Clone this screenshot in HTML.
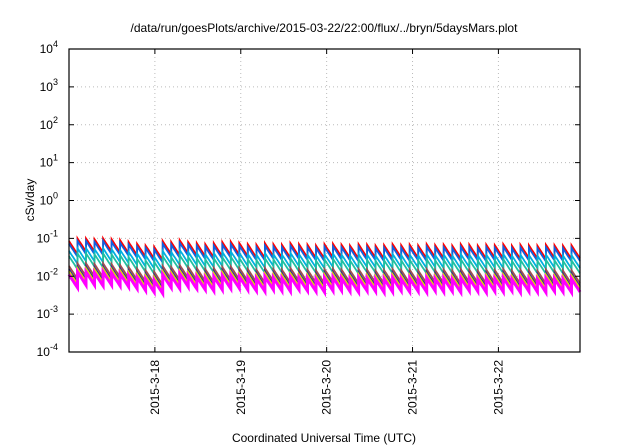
<!DOCTYPE html>
<html><head><meta charset="utf-8"><style>
body{margin:0;background:#fff;}
svg{display:block;font-family:"Liberation Sans",sans-serif;}
</style></head><body>
<svg id="chart" width="640" height="448" viewBox="0 0 640 448">
<text x="324" y="32" font-size="12" text-anchor="middle">/data/run/goesPlots/archive/2015-03-22/22:00/flux/../bryn/5daysMars.plot</text>
<text transform="translate(34,200) rotate(-90)" font-size="12" text-anchor="middle">cSv/day</text>
<text x="324" y="442" font-size="12" text-anchor="middle">Coordinated Universal Time (UTC)</text>
<g id="grid"></g><g id="series"></g><g id="axes"></g>
</svg>
<script>
const yExponents=[-4,-3,-2,-1,0,1,2,3,4];
const xTickDays=[1,2,3,4,5];
const xTickLabels=["2015-3-18","2015-3-19","2015-3-20","2015-3-21","2015-3-22"];
const seriesNames=["red","blue","cyan","teal","brown","navy","yellow","magenta"];
const seriesColors=["#ff0000","#1060e0","#00b0e0","#20c0a0","#a05050","#303090","#e0e000","#ff00ff"];
const seriesFactors=[1.0,0.85,0.55,0.4,0.22,0.18,0.16,0.13];
const toothPeaks=[0.085,0.1,0.1,0.095,0.1,0.095,0.09,0.08,0.072,0.065,0.06,0.085,0.08,0.09,0.08,0.075,0.07,0.075,0.08,0.082,
0.075,0.07,0.068,0.075,0.07,0.068,0.075,0.07,0.068,0.065,0.07,0.072,0.068,0.065,0.07,0.068,0.064,0.066,0.07,0.066,
0.068,0.065,0.07,0.066,0.068,0.064,0.07,0.068,0.064,0.068,0.066,0.07,0.064,0.068,0.066,0.064,0.068,0.066,0.064,0.066];
const decayRatio=0.45;
const X0=69,X1=580,Y0=49,Y1=352,DAYS=5.95;
const xs=d=>X0+d/DAYS*(X1-X0);
const ys=v=>Y1-(Math.log10(v)+4)/8*(Y1-Y0);
const NS="http://www.w3.org/2000/svg";
function mk(t,a,p){const e=document.createElementNS(NS,t);for(const k in a)e.setAttribute(k,a[k]);p.appendChild(e);return e;}
const grid=document.getElementById('grid'),axes=document.getElementById('axes'),ser=document.getElementById('series');
yExponents.forEach(e=>{const y=ys(Math.pow(10,e));
 if(e>-4&&e<4){const l=mk('line',{x1:X0,x2:X1,y1:y,y2:y,stroke:'#bbb','stroke-dasharray':'1,3'},grid);
 
 }
 const t=mk('text',{x:58,y:y+4,'font-size':12,'text-anchor':'end'},axes);
 
 
 t.innerHTML='10<tspan dy="-6" font-size="9">'+e+'</tspan>';
 mk('line',{x1:X0,x2:X0+5,y1:y,y2:y,stroke:'#000'},axes);mk('line',{x1:X1,x2:X1-5,y1:y,y2:y,stroke:'#000'},axes);});
xTickDays.forEach((d,i)=>{const x=xs(d);
 const l=mk('line',{x1:x,x2:x,y1:Y0,y2:Y1,stroke:'#bbb','stroke-dasharray':'1,3'},grid);
 
 
 mk('line',{x1:x,x2:x,y1:Y1,y2:Y1-5,stroke:'#000'},axes);mk('line',{x1:x,x2:x,y1:Y0,y2:Y0+5,stroke:'#000'},axes);
 const t=mk('text',{transform:`translate(${x+4},${Y1+8}) rotate(-90)`,'font-size':12,'text-anchor':'end'},axes);
 
 
 t.textContent=xTickLabels[i];});
const frame=mk('rect',{x:X0,y:Y0,width:X1-X0,height:Y1-Y0,fill:'none',stroke:'#000','stroke-width':1.2},axes);


const per=DAYS/toothPeaks.length;
seriesNames.forEach((n,si)=>{let pts=[];
 toothPeaks.forEach((p,i)=>{const pk=p*seriesFactors[si];
  for(let k=0;k<=6;k++){const d=(i+k/6)*per;const v=pk*Math.pow(decayRatio,k/6);pts.push(xs(d).toFixed(1)+','+ys(v).toFixed(1));}});
 const pl=mk('polyline',{points:pts.join(' '),fill:'none',stroke:seriesColors[si],'stroke-width':n==='magenta'?3:1.8},ser);
 
 });
</script>
</body></html>
